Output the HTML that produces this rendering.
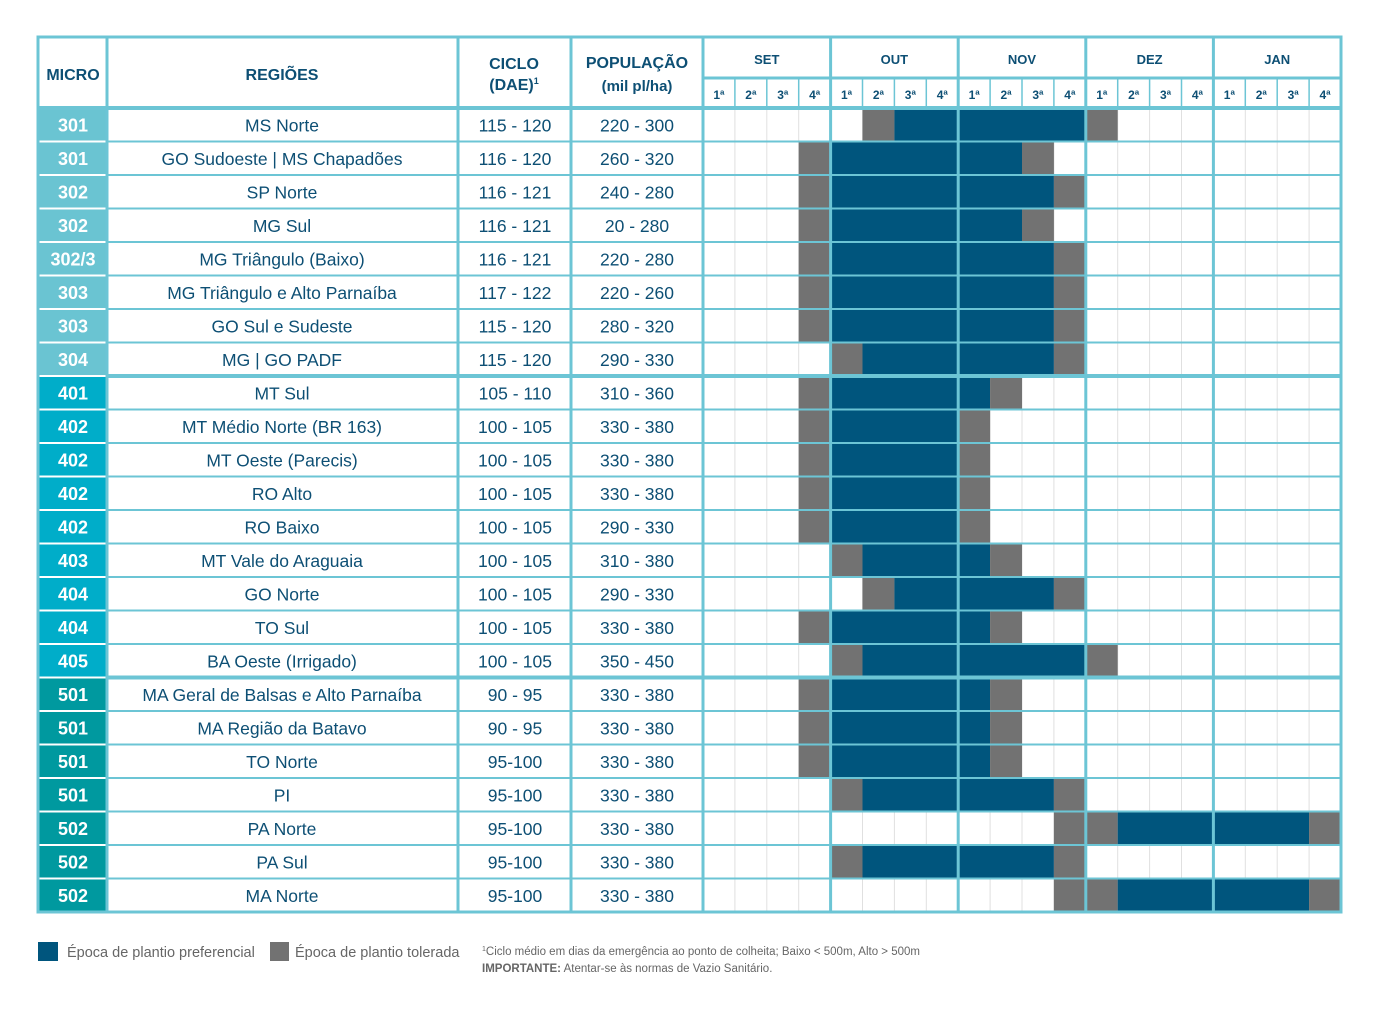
<!DOCTYPE html>
<html><head><meta charset="utf-8"><style>
html,body{margin:0;padding:0;background:#fff}
svg text{font-family:"Liberation Sans",sans-serif}
</style></head><body>
<svg id="s" width="1377" height="1009" xmlns="http://www.w3.org/2000/svg"></svg>
<script>
const S=document.getElementById('s');let h='';
const T='#6cc5d5',B='#00557d',G='#727272',TX='#0d4f74';
const X0=38,X1=1341,Y0=37,YH=108,RH=33.5;
const W0=703,WW=(1341-703)/20;
const rows=[
['301','MS Norte','115 - 120','220 - 300',[[5,5,'g'],[6,11,'b'],[12,12,'g']]],
['301','GO Sudoeste | MS Chapadões','116 - 120','260 - 320',[[3,3,'g'],[4,9,'b'],[10,10,'g']]],
['302','SP Norte','116 - 121','240 - 280',[[3,3,'g'],[4,10,'b'],[11,11,'g']]],
['302','MG Sul','116 - 121','20 - 280',[[3,3,'g'],[4,9,'b'],[10,10,'g']]],
['302/3','MG Triângulo (Baixo)','116 - 121','220 - 280',[[3,3,'g'],[4,10,'b'],[11,11,'g']]],
['303','MG Triângulo e Alto Parnaíba','117 - 122','220 - 260',[[3,3,'g'],[4,10,'b'],[11,11,'g']]],
['303','GO Sul e Sudeste','115 - 120','280 - 320',[[3,3,'g'],[4,10,'b'],[11,11,'g']]],
['304','MG | GO PADF','115 - 120','290 - 330',[[4,4,'g'],[5,10,'b'],[11,11,'g']]],
['401','MT Sul','105 - 110','310 - 360',[[3,3,'g'],[4,8,'b'],[9,9,'g']]],
['402','MT Médio Norte (BR 163)','100 - 105','330 - 380',[[3,3,'g'],[4,7,'b'],[8,8,'g']]],
['402','MT Oeste (Parecis)','100 - 105','330 - 380',[[3,3,'g'],[4,7,'b'],[8,8,'g']]],
['402','RO Alto','100 - 105','330 - 380',[[3,3,'g'],[4,7,'b'],[8,8,'g']]],
['402','RO Baixo','100 - 105','290 - 330',[[3,3,'g'],[4,7,'b'],[8,8,'g']]],
['403','MT Vale do Araguaia','100 - 105','310 - 380',[[4,4,'g'],[5,8,'b'],[9,9,'g']]],
['404','GO Norte','100 - 105','290 - 330',[[5,5,'g'],[6,10,'b'],[11,11,'g']]],
['404','TO Sul','100 - 105','330 - 380',[[3,3,'g'],[4,8,'b'],[9,9,'g']]],
['405','BA Oeste (Irrigado)','100 - 105','350 - 450',[[4,4,'g'],[5,11,'b'],[12,12,'g']]],
['501','MA Geral de Balsas e Alto Parnaíba','90 - 95','330 - 380',[[3,3,'g'],[4,8,'b'],[9,9,'g']]],
['501','MA Região da Batavo','90 - 95','330 - 380',[[3,3,'g'],[4,8,'b'],[9,9,'g']]],
['501','TO Norte','95-100','330 - 380',[[3,3,'g'],[4,8,'b'],[9,9,'g']]],
['501','PI','95-100','330 - 380',[[4,4,'g'],[5,10,'b'],[11,11,'g']]],
['502','PA Norte','95-100','330 - 380',[[11,12,'g'],[13,18,'b'],[19,19,'g']]],
['502','PA Sul','95-100','330 - 380',[[4,4,'g'],[5,10,'b'],[11,11,'g']]],
['502','MA Norte','95-100','330 - 380',[[11,12,'g'],[13,18,'b'],[19,19,'g']]]];
for(let k=1;k<20;k++){if(k%4==0)continue;const x=W0+k*WW;h+=`<line x1="${x}" y1="${YH}" x2="${x}" y2="912" stroke="#e0e0e0" stroke-width="1"/>`;}
rows.forEach((r,i)=>{const y=YH+i*RH;
 const mc=i<8?'#6ac4d2':(i<17?'#00adc9':'#00999f');
 h+=`<rect x="${X0}" y="${y}" width="${107-X0}" height="${RH}" fill="${mc}"/>`;
 r[4].forEach(b=>{h+=`<rect x="${W0+b[0]*WW}" y="${y}" width="${(b[1]-b[0]+1)*WW}" height="${RH}" fill="${b[2]=='b'?B:G}"/>`;});
 const cy=y+RH/2+6.5;
 h+=`<text x="73" y="${cy}" fill="#fff" font-weight="bold" font-size="18" text-anchor="middle">${r[0]}</text>`;
 h+=`<text x="282" y="${cy}" fill="${TX}" font-size="17.5" text-anchor="middle">${r[1]}</text>`;
 h+=`<text x="515" y="${cy}" fill="${TX}" font-size="17.5" text-anchor="middle">${r[2]}</text>`;
 h+=`<text x="637" y="${cy}" fill="${TX}" font-size="17.5" text-anchor="middle">${r[3]}</text>`;
});
for(let i=1;i<24;i++){const y=YH+i*RH;const w=(i==8||i==17)?4:2;
 h+=`<line x1="${X0}" y1="${y}" x2="107" y2="${y}" stroke="#fff" stroke-width="2"/>`;
 h+=`<line x1="107" y1="${y}" x2="${X1}" y2="${y}" stroke="${T}" stroke-width="${w}"/>`;}
h+=`<line x1="${W0}" y1="78" x2="${X1}" y2="78" stroke="${T}" stroke-width="3"/>`;
h+=`<line x1="${X0}" y1="${YH}" x2="${X1}" y2="${YH}" stroke="${T}" stroke-width="4"/>`;
for(let k=1;k<20;k++){if(k%4==0)continue;const x=W0+k*WW;h+=`<line x1="${x}" y1="78" x2="${x}" y2="${YH}" stroke="${T}" stroke-width="1.5"/>`;}
[107,458,571,703].forEach(x=>h+=`<line x1="${x}" y1="${Y0}" x2="${x}" y2="912" stroke="${T}" stroke-width="3"/>`);
for(let m=1;m<5;m++){const x=W0+m*4*WW;h+=`<line x1="${x}" y1="${Y0}" x2="${x}" y2="912" stroke="${T}" stroke-width="3"/>`;}
h+=`<rect x="${X0}" y="${Y0}" width="${X1-X0}" height="${912-Y0}" fill="none" stroke="${T}" stroke-width="3"/>`;
const hb=`fill="${TX}" font-weight="bold" text-anchor="middle"`;
h+=`<text x="73" y="80" ${hb} font-size="16">MICRO</text>`;
h+=`<text x="282" y="80" ${hb} font-size="16">REGIÕES</text>`;
h+=`<text x="514" y="69" ${hb} font-size="16">CICLO</text>`;
h+=`<text x="514" y="90" ${hb} font-size="16">(DAE)<tspan font-size="9" dy="-6">1</tspan></text>`;
h+=`<text x="637" y="68" ${hb} font-size="16">POPULAÇÃO</text>`;
h+=`<text x="637" y="91" ${hb} font-size="15">(mil pl/ha)</text>`;
['SET','OUT','NOV','DEZ','JAN'].forEach((m,i)=>h+=`<text x="${W0+(i*4+2)*WW}" y="64" ${hb} font-size="13">${m}</text>`);
for(let k=0;k<20;k++)h+=`<text x="${W0+(k+.5)*WW}" y="99" ${hb} font-size="12">${(k%4)+1}ª</text>`;
h+=`<rect x="38" y="942" width="20" height="19" fill="${B}"/><text x="67" y="957" fill="#666" font-size="14.5">Época de plantio preferencial</text>`;
h+=`<rect x="270" y="942" width="19" height="19" fill="${G}"/><text x="295" y="957" fill="#666" font-size="14.5">Época de plantio tolerada</text>`;
h+=`<text x="482" y="955" fill="#666" font-size="11.5"><tspan font-size="7" dy="-4">1</tspan><tspan dy="4">Ciclo médio em dias da emergência ao ponto de colheita; Baixo &lt; 500m, Alto &gt; 500m</tspan></text>`;
h+=`<text x="482" y="972" fill="#666" font-size="11.5"><tspan font-weight="bold">IMPORTANTE:</tspan> Atentar-se às normas de Vazio Sanitário.</text>`;
S.innerHTML=h;
</script>
</body></html>
